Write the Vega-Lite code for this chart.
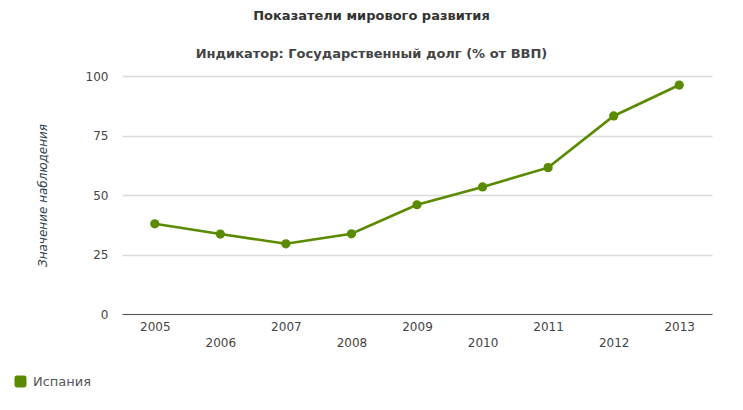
{
  "$schema": "https://vega.github.io/schema/vega-lite/v6.json",
  "autosize": {"type": "none"},
  "width": 590,
  "height": 238,
  "padding": {"left": 122, "top": 76, "right": 31, "bottom": 96},
  "background": "#ffffff",
  "title": {
    "text": "Показатели мирового развития",
    "subtitle": "Индикатор: Государственный долг (% от ВВП)",
    "anchor": "middle",
    "frame": "group",
    "dx": -45.5,
    "font": "DejaVu Sans",
    "fontSize": 13,
    "fontWeight": "bold",
    "color": "#333333",
    "subtitleFont": "DejaVu Sans",
    "subtitleFontSize": 13,
    "subtitleFontWeight": "bold",
    "subtitleColor": "#444444",
    "subtitlePadding": 25,
    "offset": 9
  },
  "data": {
    "values": [
      {"year": 2005, "value": 37.9, "country": "Испания"},
      {"year": 2006, "value": 33.6, "country": "Испания"},
      {"year": 2007, "value": 29.5, "country": "Испания"},
      {"year": 2008, "value": 33.7, "country": "Испания"},
      {"year": 2009, "value": 45.9, "country": "Испания"},
      {"year": 2010, "value": 53.4, "country": "Испания"},
      {"year": 2011, "value": 61.5, "country": "Испания"},
      {"year": 2012, "value": 83.2, "country": "Испания"},
      {"year": 2013, "value": 96.2, "country": "Испания"}
    ]
  },
  "mark": {
    "type": "line",
    "strokeWidth": 2.6,
    "point": {"filled": true, "size": 85, "opacity": 1}
  },
  "encoding": {
    "x": {
      "field": "year",
      "type": "ordinal",
      "scale": {"type": "point", "padding": 0.5},
      "axis": {
        "title": null,
        "labelAngle": 0,
        "ticks": false,
        "domain": true,
        "domainColor": "#555555",
        "domainWidth": 1,
        "grid": false,
        "labelFont": "DejaVu Sans",
        "labelFontSize": 12,
        "labelColor": "#444444",
        "labelPadding": 7,
        "labelLineHeight": 16,
        "labelBaseline": "top",
        "labelExpr": "datum.value % 2 == 0 ? ['', datum.label] : datum.label"
      }
    },
    "y": {
      "field": "value",
      "type": "quantitative",
      "scale": {"domain": [0, 100], "nice": false},
      "axis": {
        "title": "Значение наблюдения",
        "titleFont": "DejaVu Sans",
        "titleFontSize": 12,
        "titleFontStyle": "italic",
        "titleFontWeight": "normal",
        "titleColor": "#2e3f50",
        "titlePadding": 36,
        "values": [0, 25, 50, 75, 100],
        "domain": false,
        "ticks": false,
        "grid": true,
        "gridColor": "#dcdcdc",
        "gridWidth": 1.3,
        "labelFont": "DejaVu Sans",
        "labelFontSize": 12,
        "labelColor": "#444444",
        "labelPadding": 14
      }
    },
    "color": {
      "field": "country",
      "type": "nominal",
      "scale": {"range": ["#5a8a00"]},
      "legend": {
        "title": null,
        "orient": "none",
        "legendX": -108,
        "legendY": 299,
        "symbolType": "M-0.6,-1L0.6,-1Q1,-1,1,-0.6L1,0.6Q1,1,0.6,1L-0.6,1Q-1,1,-1,0.6L-1,-0.6Q-1,-1,-0.6,-1Z",
        "symbolSize": 144,
        "symbolFillColor": "#5a8a00",
        "symbolStrokeWidth": 0,
        "labelFont": "DejaVu Sans",
        "labelFontSize": 13,
        "labelColor": "#555555",
        "labelOffset": 6
      }
    }
  },
  "config": {
    "view": {"stroke": null}
  }
}
